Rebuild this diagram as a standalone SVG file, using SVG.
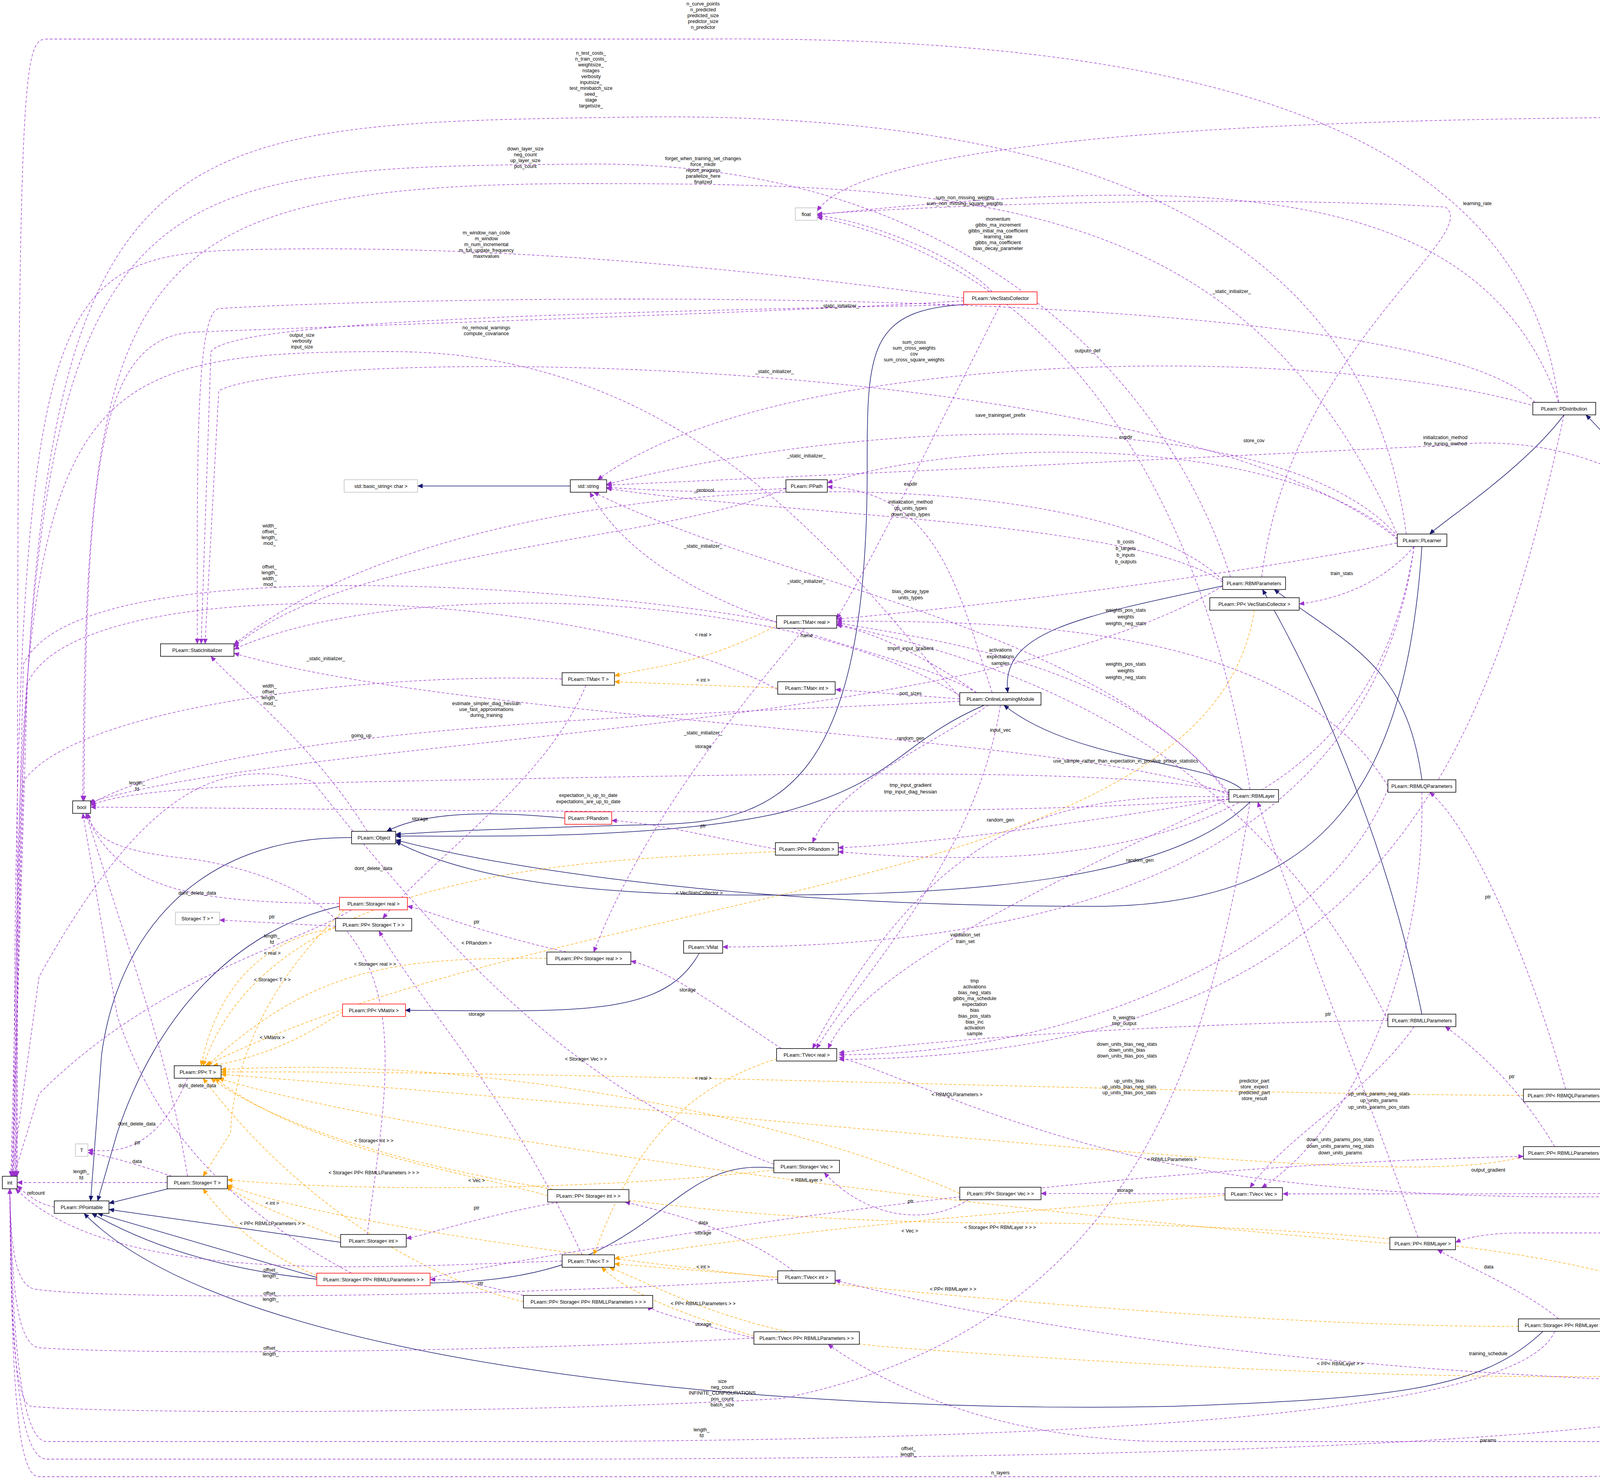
<svg xmlns="http://www.w3.org/2000/svg" width="5272" height="3791" viewBox="0 0 5272 3791">
<style>
text{font-family:"Liberation Sans",Arial,sans-serif;font-size:12.5px;fill:#000}
.n rect{fill:#fff;stroke:#000;stroke-width:1.5}
.n text{text-anchor:middle}
.red rect{stroke:#ff0000}
.gray rect{stroke:#bfbfbf}
.sel rect{fill:#bfbfbf}
.inh{fill:none;stroke:#191970;stroke-width:1.5;marker-end:url(#mi)}
.use{fill:none;stroke:#9a32cd;stroke-width:1.3;stroke-dasharray:7,5;marker-end:url(#mu)}
.tpl{fill:none;stroke:#ffa500;stroke-width:1.3;stroke-dasharray:7,5;marker-end:url(#mt)}
.l text{text-anchor:middle}
</style>
<defs>
<marker id="mi" markerWidth="14" markerHeight="12" refX="13" refY="6" orient="auto" markerUnits="userSpaceOnUse"><path d="M0,0L14,6L0,12z" fill="#191970"/></marker>
<marker id="mu" markerWidth="14" markerHeight="12" refX="13" refY="6" orient="auto" markerUnits="userSpaceOnUse"><path d="M0,0L14,6L0,12z" fill="#9a32cd"/></marker>
<marker id="mt" markerWidth="14" markerHeight="12" refX="13" refY="6" orient="auto" markerUnits="userSpaceOnUse"><path d="M0,0L14,6L0,12z" fill="#ffa500"/></marker>
</defs>
<rect width="5272" height="3791" fill="#fff"/>
<g id="edges">
<!-- inheritance -->
<path class="inh" d="M3640,1399 C3600,2000 3400,2320 2800,2320 C1800,2320 1200,2200 1013,2150"/>
<path class="inh" d="M4004,1062 C3900,1200 3700,1330 3660,1367"/>
<path class="inh" d="M5157,2961 C5100,2400 4300,1300 4060,1062"/>
<path class="inh" d="M3130,1500 C2750,1580 2560,1620 2580,1773"/>
<path class="inh" d="M3180,2021 C3100,1950 2750,1950 2570,1805"/>
<path class="inh" d="M2520,1805 C2300,1900 2300,2000 2000,2080 C1700,2150 1200,2140 1013,2140"/>
<path class="inh" d="M2480,779 C2220,790 2220,900 2220,1200 C2220,2000 2000,2100 1700,2110 C1300,2120 1100,2130 1013,2136"/>
<path class="inh" d="M1446,2094 C1300,2080 1100,2070 990,2128"/>
<path class="inh" d="M3200,2053 C3000,2250 2500,2300 1800,2290 C1300,2280 1100,2200 1013,2154"/>
<path class="inh" d="M3640,1996 C3600,1700 3450,1650 3262,1509"/>
<path class="inh" d="M3640,2596 C3560,2200 3400,1800 3232,1509"/>
<path class="inh" d="M900,2144 C500,2140 300,2400 260,2700 L232,3074"/>
<path class="inh" d="M869,2320 C600,2380 400,2600 300,2900 L250,3074"/>
<path class="inh" d="M430,3043 L279,3080"/>
<path class="inh" d="M872,3180 L279,3096"/>
<path class="inh" d="M811,3270 L250,3106"/>
<path class="inh" d="M1981,2990 C1700,2960 1700,3250 1200,3280 C700,3310 400,3200 235,3106"/>
<path class="inh" d="M3950,3408 C3800,3550 3600,3580 3000,3600 C2000,3620 600,3500 215,3106"/>
<path class="inh" d="M1790,2440 C1700,2600 1500,2590 1037,2586"/>
<path class="inh" d="M1460,1244 L1069,1244"/>
<!-- template -->
<path class="tpl" d="M1985,2180 C1600,2200 700,2200 520,2728"/>
<path class="tpl" d="M1400,2453 C1000,2450 800,2480 530,2728"/>
<path class="tpl" d="M859,2375 C700,2400 560,2500 515,2728"/>
<path class="tpl" d="M877,2590 C800,2640 700,2700 545,2728"/>
<path class="tpl" d="M3211,1562 C3100,2300 1500,2250 525,2728"/>
<path class="tpl" d="M2457,3055 C2000,2850 1200,2700 566,2738"/>
<path class="tpl" d="M1402,3061 C1200,3000 800,2950 550,2760"/>
<path class="tpl" d="M3900,2804 C3000,2800 1500,2740 566,2744"/>
<path class="tpl" d="M3900,2960 C3600,3050 2500,2900 566,2750"/>
<path class="tpl" d="M3560,3183 C2500,3100 1000,2900 560,2760"/>
<path class="tpl" d="M1340,3332 C1000,3250 700,3000 520,2760"/>
<path class="tpl" d="M4400,3376 C4100,3150 3000,3130 2500,3130 C1500,3120 800,2950 540,2760"/>
<path class="tpl" d="M880,2330 C700,2500 600,2700 590,2900 L520,3011"/>
<path class="tpl" d="M872,3170 C700,3100 600,3060 582,3035"/>
<path class="tpl" d="M1981,2995 C1500,3050 900,3050 582,3020"/>
<path class="tpl" d="M811,3265 C650,3200 560,3100 520,3043"/>
<path class="tpl" d="M3887,3395 C3000,3400 1000,3200 582,3033"/>
<path class="tpl" d="M1990,1600 C1800,1700 1700,1700 1573,1730"/>
<path class="tpl" d="M1991,1761 L1573,1745"/>
<path class="tpl" d="M1990,2710 C1700,2800 1600,3000 1520,3212"/>
<path class="tpl" d="M1991,3269 L1573,3235"/>
<path class="tpl" d="M3136,3060 C2600,3100 2000,3150 1573,3222"/>
<path class="tpl" d="M1930,3420 C1700,3350 1600,3300 1540,3244"/>
<path class="tpl" d="M4733,3496 C4000,3560 3000,3500 2300,3450 C1900,3420 1700,3300 1560,3244"/>
<!-- usage to int -->
<path class="use" d="M140,3090 C90,3080 60,3050 44,3035"/>
<path class="use" d="M428,3027 L44,3027"/>
<path class="use" d="M1439,1738 C1000,1720 200,1800 60,2000 L30,3011"/>
<path class="use" d="M1988,1592 C1500,1500 200,1400 60,1700 L28,3011"/>
<path class="use" d="M1991,1765 C1500,1500 200,1450 70,1750 L32,3011"/>
<path class="use" d="M1439,3228 C1000,3240 300,3300 40,3043"/>
<path class="use" d="M5130,2993 C5000,3600 4700,3780 4000,3780 L100,3780 C40,3780 30,3500 25,3043"/>
<path class="use" d="M4800,3512 C4400,3700 3000,3730 1500,3735 L120,3735 C40,3735 30,3400 25,3043"/>
<path class="use" d="M3980,3408 C3900,3600 3000,3680 1500,3690 L120,3690 C40,3690 30,3300 25,3043"/>
<path class="use" d="M1930,3425 C1300,3460 400,3470 100,3450 C30,3440 30,3200 25,3043"/>
<path class="use" d="M1991,3275 C1300,3320 300,3330 90,3300 C30,3290 28,3150 25,3043"/>
<path class="use" d="M3200,2053 C3100,2700 2900,3400 2000,3580 C1300,3620 300,3620 80,3600 C30,3590 27,3300 25,3043"/>
<path class="use" d="M2467,763 C2000,700 1300,620 600,640 C100,660 40,800 35,3011"/>
<path class="use" d="M2457,1785 C2200,1500 1800,900 1000,900 C100,900 40,1000 38,3011"/>
<path class="use" d="M3150,1477 C3000,1000 2500,410 1500,420 C200,430 45,450 40,3011"/>
<path class="use" d="M3600,1367 C3500,600 2800,280 1600,300 C200,320 50,330 42,3011"/>
<path class="use" d="M3990,1030 C3900,300 3000,90 1800,100 L120,100 C50,100 44,200 44,3011"/>
<path class="use" d="M900,2329 C750,2420 400,2500 100,2800 L35,3011"/>
<path class="use" d="M1981,2980 C1500,2800 1200,2500 800,2000 C600,1950 400,1960 100,2500 L30,3011"/>
<!-- usage to bool -->
<path class="use" d="M2467,770 C2000,800 1000,830 500,850 C250,860 220,1200 215,2050"/>
<path class="use" d="M3580,1375 C3200,500 2500,470 1500,470 C300,470 220,700 212,2050"/>
<path class="use" d="M3146,2045 C2500,2100 1000,2070 232,2066"/>
<path class="use" d="M2457,1795 C1800,1830 600,1850 232,2058"/>
<path class="use" d="M3130,1500 C2500,1880 800,1880 228,2054"/>
<path class="use" d="M3146,2030 C2900,1960 2000,1980 1000,2000 C500,2010 300,2030 232,2062"/>
<path class="use" d="M868,2313 C500,2310 300,2280 220,2082"/>
<path class="use" d="M480,3011 C430,2700 350,2500 220,2082"/>
<path class="use" d="M940,3160 C1000,2700 1100,2300 500,2200 C300,2180 240,2150 225,2082"/>
<path class="use" d="M900,3259 C600,3100 400,2900 300,2600 L212,2082"/>
<!-- to float -->
<path class="use" d="M5150,2961 C5100,1000 5000,300 4400,300 C3000,300 2200,380 2092,540"/>
<path class="use" d="M3990,1030 C3800,500 3200,430 2092,550"/>
<path class="use" d="M3230,1477 C3300,900 3800,600 3700,530 C3200,500 2500,520 2092,548"/>
<path class="use" d="M3200,2021 C3100,1400 2800,700 2092,556"/>
<path class="use" d="M2540,747 C2450,650 2200,560 2092,552"/>
<!-- to StaticInitializer -->
<path class="use" d="M3930,1030 C3600,700 1000,760 560,790 C500,800 505,1200 505,1648"/>
<path class="use" d="M2467,780 C1500,800 600,820 540,900 L515,1648"/>
<path class="use" d="M3577,1380 C3000,900 800,880 560,1000 L525,1648"/>
<path class="use" d="M3130,1485 C2800,1160 1200,1160 599,1650"/>
<path class="use" d="M2012,1250 C1700,1390 900,1400 599,1656"/>
<path class="use" d="M2457,1780 C2000,1500 1000,1480 599,1662"/>
<path class="use" d="M3146,2035 C2800,1880 1200,1850 599,1672"/>
<path class="use" d="M940,2128 C800,1900 600,1750 540,1680"/>
<!-- to std::string / PPath -->
<path class="use" d="M3930,1040 C3400,880 2000,880 1530,1228"/>
<path class="use" d="M3580,1375 C3300,1050 2300,1050 1553,1240"/>
<path class="use" d="M3580,1380 C3300,1120 2500,1110 2118,1236"/>
<path class="use" d="M2012,1250 C1800,1265 1700,1255 1553,1248"/>
<path class="use" d="M2540,1773 C2450,1500 2400,1260 2118,1246"/>
<path class="use" d="M3130,1490 C2900,1330 2000,1320 1553,1250"/>
<path class="use" d="M3146,2030 C2800,1600 2000,1500 1520,1260"/>
<path class="use" d="M2500,1773 C2300,1650 1700,1600 1510,1260"/>
<path class="use" d="M5100,2961 C4900,2000 4500,1050 3700,1140 C2500,1200 1800,1230 1553,1242"/>
<!-- to TMat -->
<path class="use" d="M2561,779 C2450,1000 2250,1400 2142,1584"/>
<path class="use" d="M3553,2012 C3300,1600 2600,1590 2142,1590"/>
<path class="use" d="M3553,2612 C3200,1900 2600,1700 2142,1598"/>
<path class="use" d="M2500,1773 C2400,1700 2250,1620 2142,1600"/>
<path class="use" d="M3146,2037 C2900,1700 2400,1640 2142,1594"/>
<path class="use" d="M3576,1390 C3000,1500 2400,1560 2142,1585"/>
<path class="use" d="M2457,1789 L2139,1765"/>
<!-- misc -->
<path class="use" d="M3620,1399 C3550,1480 3450,1530 3326,1546"/>
<path class="use" d="M2530,1805 C2400,1900 2150,2000 2080,2157"/>
<path class="use" d="M3146,2045 C2800,2100 2400,2160 2146,2170"/>
<path class="use" d="M3620,1399 C3500,2200 2700,2230 2146,2180"/>
<path class="use" d="M1985,2173 C1800,2140 1700,2110 1566,2100"/>
<path class="use" d="M480,2760 C400,2950 300,2950 225,2944"/>
<path class="use" d="M440,3011 C350,2980 280,2960 225,2950"/>
<path class="use" d="M859,2371 L562,2355"/>
<path class="use" d="M1450,2437 C1200,2380 1100,2330 1043,2320"/>
<path class="use" d="M2000,2684 C1800,2550 1700,2480 1615,2460"/>
<path class="use" d="M2060,1608 C1900,1800 1650,2100 1520,2437"/>
<path class="use" d="M1500,1754 C1400,2000 1100,2200 980,2351"/>
<path class="use" d="M1490,3212 C1300,2800 1100,2600 970,2383"/>
<path class="use" d="M2030,3253 C1900,3150 1700,3100 1600,3077"/>
<path class="use" d="M1430,3077 C1200,3120 1100,3160 1040,3170"/>
<path class="use" d="M2480,3071 C2350,3150 2200,3100 2110,3002"/>
<path class="use" d="M3136,3056 L2665,3055"/>
<path class="use" d="M5049,2985 C4900,3056 4700,3056 3284,3056"/>
<path class="use" d="M3640,2028 C3650,2500 3450,2900 3230,3040"/>
<path class="use" d="M3620,2628 C3500,2800 3300,2900 3200,3040"/>
<path class="use" d="M5060,2961 C4700,2870 4400,2820 4116,2808"/>
<path class="use" d="M5049,2974 L4116,2955"/>
<path class="use" d="M3980,2935 C3900,2800 3800,2700 3700,2628"/>
<path class="use" d="M4008,2788 C3900,2400 3750,2100 3660,2028"/>
<path class="use" d="M5049,2990 C4500,3080 3600,3100 3000,2980 C2600,2900 2300,2750 2148,2706"/>
<path class="use" d="M5110,2993 C5050,3500 5000,3690 4800,3690 L3000,3690 C2500,3690 2200,3500 2120,3441"/>
<path class="use" d="M5100,2993 C5000,3500 4900,3545 4700,3545 C4200,3545 3000,3500 2138,3277"/>
<path class="use" d="M5130,2993 C5050,3200 4900,3400 4880,3480"/>
<path class="use" d="M5110,2993 C5000,3150 4900,3156 4700,3156 L3900,3156 C3800,3156 3750,3170 3726,3180"/>
<path class="use" d="M4800,3480 C4700,3440 4600,3420 4520,3408"/>
<path class="use" d="M4308,3392 L4129,3392"/>
<path class="use" d="M3990,3376 C3900,3300 3750,3240 3680,3199"/>
<path class="use" d="M3630,3167 C3500,2800 3300,2300 3220,2053"/>
<path class="use" d="M1930,3425 C1750,3380 1650,3350 1672,3348"/>
<path class="use" d="M1340,3316 C1200,3280 1150,3275 1101,3275"/>
<path class="use" d="M1101,3270 C2000,3100 3000,2980 3900,2960"/>
<path class="use" d="M3620,1399 C3500,2300 2500,2424 1850,2424"/>
<path class="use" d="M3146,2045 C2600,2300 2200,2500 2120,2684"/>
<path class="use" d="M3553,2612 C3000,2620 2400,2660 2148,2695"/>
<path class="use" d="M3553,2020 C3400,2400 2800,2700 2148,2700"/>
<path class="use" d="M4004,1062 C3800,2000 3500,2700 2148,2712"/>
<path class="use" d="M2561,1805 C2500,2200 2200,2500 2090,2684"/>
<path class="use" d="M3146,2040 C2700,2030 2400,2100 2080,2684"/>
</g>
<g class="l" id="labels">
<text x="1220" y="2418">&lt; PRandom &gt;</text>
<text x="960" y="2472">&lt; Storage&lt; real &gt; &gt;</text>
<text x="697" y="2512">&lt; Storage&lt; T &gt; &gt;</text>
<text x="697" y="2660">&lt; VMatrix &gt;</text>
<text x="1790" y="2290">&lt; VecStatsCollector &gt;</text>
<text x="1500" y="2715">&lt; Storage&lt; Vec &gt; &gt;</text>
<text x="957" y="2924">&lt; Storage&lt; int &gt; &gt;</text>
<text x="2450" y="2806">&lt; RBMQLParameters &gt;</text>
<text x="3000" y="2972">&lt; RBMLLParameters &gt;</text>
<text x="2065" y="3025">&lt; RBMLayer &gt;</text>
<text x="957" y="3006">&lt; Storage&lt; PP&lt; RBMLLParameters &gt; &gt; &gt;</text>
<text x="2560" y="3146">&lt; Storage&lt; PP&lt; RBMLayer &gt; &gt; &gt;</text>
<text x="697" y="2444">&lt; real &gt;</text>
<text x="697" y="3084">&lt; int &gt;</text>
<text x="1220" y="3026">&lt; Vec &gt;</text>
<text x="697" y="3136">&lt; PP&lt; RBMLLParameters &gt; &gt;</text>
<text x="2440" y="3304">&lt; PP&lt; RBMLayer &gt; &gt;</text>
<text x="1800" y="1629">&lt; real &gt;</text>
<text x="1800" y="1745">&lt; int &gt;</text>
<text x="1800" y="2764">&lt; real &gt;</text>
<text x="1800" y="3247">&lt; int &gt;</text>
<text x="2329" y="3155">&lt; Vec &gt;</text>
<text x="1800" y="3341">&lt; PP&lt; RBMLLParameters &gt; &gt;</text>
<text x="3431" y="3495">&lt; PP&lt; RBMLayer &gt; &gt;</text>
<text x="92" y="3058">refcount</text>
<text x="208" y="3003">length_<tspan x="208" dy="16">fd</tspan></text>
<text x="690" y="1760">width_<tspan x="690" dy="15">offset_</tspan><tspan x="690" dy="15">length_</tspan><tspan x="690" dy="15">mod_</tspan></text>
<text x="690" y="1350">width_<tspan x="690" dy="15">offset_</tspan><tspan x="690" dy="15">length_</tspan><tspan x="690" dy="15">mod_</tspan></text>
<text x="690" y="1455">offset_<tspan x="690" dy="15">length_</tspan><tspan x="690" dy="15">width_</tspan><tspan x="690" dy="15">mod_</tspan></text>
<text x="693" y="3255">offset_<tspan x="693" dy="15">length_</tspan></text>
<text x="2561" y="3774">n_layers</text>
<text x="2326" y="3712">offset_<tspan x="2326" dy="15">length_</tspan></text>
<text x="1796" y="3664">length_<tspan x="1796" dy="15">fd</tspan></text>
<text x="693" y="3455">offset_<tspan x="693" dy="15">length_</tspan></text>
<text x="693" y="3315">offset_<tspan x="693" dy="15">length_</tspan></text>
<text x="1849" y="3540">size<tspan x="1849" dy="15">neg_count</tspan><tspan x="1849" dy="15">INFINITE_CONFIGURATIONS</tspan><tspan x="1849" dy="15">pos_count</tspan><tspan x="1849" dy="15">batch_size</tspan></text>
<text x="1245" y="600">m_window_nan_code<tspan x="1245" dy="15">m_window</tspan><tspan x="1245" dy="15">m_num_incremental</tspan><tspan x="1245" dy="15">m_full_update_frequency</tspan><tspan x="1245" dy="15">maxnvalues</tspan></text>
<text x="773" y="862">output_size<tspan x="773" dy="15">verbosity</tspan><tspan x="773" dy="15">input_size</tspan></text>
<text x="1345" y="385">down_layer_size<tspan x="1345" dy="15">neg_count</tspan><tspan x="1345" dy="15">up_layer_size</tspan><tspan x="1345" dy="15">pos_count</tspan></text>
<text x="1513" y="140">n_test_costs_<tspan x="1513" dy="15">n_train_costs_</tspan><tspan x="1513" dy="15">weightsize_</tspan><tspan x="1513" dy="15">nstages</tspan><tspan x="1513" dy="15">verbosity</tspan><tspan x="1513" dy="15">inputsize_</tspan><tspan x="1513" dy="15">test_minibatch_size</tspan><tspan x="1513" dy="15">seed_</tspan><tspan x="1513" dy="15">stage</tspan><tspan x="1513" dy="15">targetsize_</tspan></text>
<text x="1800" y="14">n_curve_points<tspan x="1800" dy="15">n_predicted</tspan><tspan x="1800" dy="15">predicted_size</tspan><tspan x="1800" dy="15">predictor_size</tspan><tspan x="1800" dy="15">n_predictor</tspan></text>
<text x="696" y="2400">length_<tspan x="696" dy="16">fd</tspan></text>
<text x="351" y="2008">length_<tspan x="351" dy="16">fd</tspan></text>
<text x="1245" y="843">no_removal_warnings<tspan x="1245" dy="15">compute_covariance</tspan></text>
<text x="1800" y="410">forget_when_training_set_changes<tspan x="1800" dy="15">force_mkdir</tspan><tspan x="1800" dy="15">report_progress</tspan><tspan x="1800" dy="15">parallelize_here</tspan><tspan x="1800" dy="15">finalized</tspan></text>
<text x="1506" y="2040">expectation_is_up_to_date<tspan x="1506" dy="16">expectations_are_up_to_date</tspan></text>
<text x="1245" y="1805">estimate_simpler_diag_hessian<tspan x="1245" dy="15">use_fast_approximations</tspan><tspan x="1245" dy="15">during_training</tspan></text>
<text x="925" y="1887">going_up</text>
<text x="2882" y="1952">use_sample_rather_than_expectation_in_positive_phase_statistics</text>
<text x="505" y="2290">dont_delete_data</text>
<text x="505" y="2783">dont_delete_data</text>
<text x="956" y="2227">dont_delete_data</text>
<text x="350" y="2881">dont_delete_data</text>
<text x="4841" y="278">learning_rate<tspan x="4841" dy="15">weight_decay</tspan></text>
<text x="4276" y="408">upper_bound<tspan x="4276" dy="15">lower_bound</tspan><tspan x="4276" dy="15">delta_curve</tspan></text>
<text x="3782" y="525">learning_rate</text>
<text x="2555" y="565">momentum<tspan x="2555" dy="15">gibbs_ma_increment</tspan><tspan x="2555" dy="15">gibbs_initial_ma_coefficient</tspan><tspan x="2555" dy="15">learning_rate</tspan><tspan x="2555" dy="15">gibbs_ma_coefficient</tspan><tspan x="2555" dy="15">bias_decay_parameter</tspan></text>
<text x="2470" y="510">sum_non_missing_weights<tspan x="2470" dy="15">sum_non_missing_square_weights</tspan></text>
<text x="3153" y="750">_static_initializer_</text>
<text x="2150" y="787">_static_initializer_</text>
<text x="1983" y="955">_static_initializer_</text>
<text x="2064" y="1171">_static_initializer_</text>
<text x="1800" y="1402">_static_initializer_</text>
<text x="2064" y="1492">_static_initializer_</text>
<text x="1800" y="1880">_static_initializer_</text>
<text x="834" y="1690">_static_initializer_</text>
<text x="2784" y="902">outputs_def</text>
<text x="2561" y="1067">save_trainingset_prefix</text>
<text x="2882" y="1123">expdir</text>
<text x="1802" y="1259">_protocol</text>
<text x="2331" y="1243">expdir</text>
<text x="2331" y="1289">initialization_method<tspan x="2331" dy="16">up_units_types</tspan><tspan x="2331" dy="16">down_units_types</tspan></text>
<text x="2331" y="1518">bias_decay_type<tspan x="2331" dy="16">units_types</tspan></text>
<text x="2065" y="1631">name</text>
<text x="3700" y="1124">initialization_method<tspan x="3700" dy="16">fine_tuning_method</tspan></text>
<text x="3210" y="1132">store_cov</text>
<text x="2340" y="880">sum_cross<tspan x="2340" dy="15">sum_cross_weights</tspan><tspan x="2340" dy="15">cov</tspan><tspan x="2340" dy="15">sum_cross_square_weights</tspan></text>
<text x="2882" y="1566">weights_pos_stats<tspan x="2882" dy="17">weights</tspan><tspan x="2882" dy="17">weights_neg_stats</tspan></text>
<text x="2882" y="1704">weights_pos_stats<tspan x="2882" dy="17">weights</tspan><tspan x="2882" dy="17">weights_neg_stats</tspan></text>
<text x="2331" y="1664">tmpm_input_gradient</text>
<text x="2561" y="1668">activations<tspan x="2561" dy="17">expectations</tspan><tspan x="2561" dy="17">samples</tspan></text>
<text x="2882" y="1391">b_costs<tspan x="2882" dy="17">b_targets</tspan><tspan x="2882" dy="17">b_inputs</tspan><tspan x="2882" dy="17">b_outputs</tspan></text>
<text x="2331" y="1779">port_sizes</text>
<text x="3435" y="1472">train_stats</text>
<text x="2331" y="1894">random_gen</text>
<text x="2561" y="2103">random_gen</text>
<text x="2918" y="2206">random_gen</text>
<text x="1800" y="2118">ptr</text>
<text x="352" y="2929">ptr</text>
<text x="351" y="2977">data</text>
<text x="696" y="2351">ptr</text>
<text x="1220" y="2364">ptr</text>
<text x="1760" y="2538">storage</text>
<text x="1800" y="1915">storage</text>
<text x="1075" y="2100">storage</text>
<text x="1220" y="2600">storage</text>
<text x="1800" y="3160">storage</text>
<text x="1220" y="3096">ptr</text>
<text x="2331" y="3079">ptr</text>
<text x="2880" y="3051">storage</text>
<text x="4217" y="3035">expectation_gradients<tspan x="4217" dy="17">activation_gradients</tspan></text>
<text x="3431" y="2921">down_units_params_pos_stats<tspan x="3431" dy="17">down_units_params_neg_stats</tspan><tspan x="3431" dy="17">down_units_params</tspan></text>
<text x="3530" y="2804">up_units_params_neg_stats<tspan x="3530" dy="17">up_units_params</tspan><tspan x="3530" dy="17">up_units_params_pos_stats</tspan></text>
<text x="4734" y="2895">target_params</text>
<text x="4661" y="2961">input_params</text>
<text x="3870" y="2760">ptr</text>
<text x="3809" y="2300">ptr</text>
<text x="3810" y="2999">output_gradient</text>
<text x="3810" y="3691">params</text>
<text x="3810" y="3469">training_schedule</text>
<text x="5003" y="3201">layers</text>
<text x="4450" y="3133">last_layer<tspan x="4450" dy="17">target_layer</tspan></text>
<text x="4661" y="3434">storage</text>
<text x="4218" y="3385">ptr</text>
<text x="3811" y="3247">data</text>
<text x="3400" y="2600">ptr</text>
<text x="1800" y="3394">storage</text>
<text x="1230" y="3289">ptr</text>
<text x="1800" y="3134">data</text>
<text x="2471" y="2397">validation_set<tspan x="2471" dy="17">train_set</tspan></text>
<text x="2495" y="2515">tmp<tspan x="2495" dy="15">activations</tspan><tspan x="2495" dy="15">bias_neg_stats</tspan><tspan x="2495" dy="15">gibbs_ma_schedule</tspan><tspan x="2495" dy="15">expectation</tspan><tspan x="2495" dy="15">bias</tspan><tspan x="2495" dy="15">bias_pos_stats</tspan><tspan x="2495" dy="15">bias_inc</tspan><tspan x="2495" dy="15">activation</tspan><tspan x="2495" dy="15">sample</tspan></text>
<text x="2878" y="2609">b_weights<tspan x="2878" dy="15">tmp_output</tspan></text>
<text x="2885" y="2677">down_units_bias_neg_stats<tspan x="2885" dy="15">down_units_bias</tspan><tspan x="2885" dy="15">down_units_bias_pos_stats</tspan></text>
<text x="2891" y="2771">up_units_bias<tspan x="2891" dy="15">up_units_bias_neg_stats</tspan><tspan x="2891" dy="15">up_units_bias_pos_stats</tspan></text>
<text x="3211" y="2771">predictor_part<tspan x="3211" dy="15">store_expect</tspan><tspan x="3211" dy="15">predicted_part</tspan><tspan x="3211" dy="15">store_result</tspan></text>
<text x="2561" y="1873">input_vec</text>
<text x="2331" y="2014">tmp_input_gradient<tspan x="2331" dy="17">tmp_input_diag_hessian</tspan></text>
</g>
<g id="n1" class="n gray"><rect x="2036" y="532" width="56" height="32"/><text x="2064" y="553">float</text></g>
<g id="n2" class="n red"><rect x="2467" y="747" width="188" height="32"/><text x="2561" y="768">PLearn::VecStatsCollector</text></g>
<g id="n3" class="n"><rect x="3924" y="1030" width="161" height="32"/><text x="4004" y="1051">PLearn::PDistribution</text></g>
<g id="n4" class="n gray"><rect x="881" y="1228" width="188" height="32"/><text x="975" y="1249">std::basic_string&lt; char &gt;</text></g>
<g id="n5" class="n"><rect x="1460" y="1228" width="93" height="32"/><text x="1506" y="1249">std::string</text></g>
<g id="n6" class="n"><rect x="2012" y="1228" width="106" height="32"/><text x="2065" y="1249">PLearn::PPath</text></g>
<g id="n7" class="n"><rect x="3577" y="1367" width="127" height="32"/><text x="3640" y="1388">PLearn::PLearner</text></g>
<g id="n8" class="n"><rect x="3130" y="1477" width="161" height="32"/><text x="3210" y="1498">PLearn::RBMParameters</text></g>
<g id="n9" class="n"><rect x="3097" y="1530" width="229" height="32"/><text x="3211" y="1551">PLearn::PP&lt; VecStatsCollector &gt;</text></g>
<g id="n10" class="n"><rect x="1988" y="1576" width="154" height="32"/><text x="2065" y="1597">PLearn::TMat&lt; real &gt;</text></g>
<g id="n11" class="n"><rect x="411" y="1648" width="188" height="32"/><text x="505" y="1669">PLearn::StaticInitializer</text></g>
<g id="n12" class="n"><rect x="1439" y="1722" width="134" height="32"/><text x="1506" y="1743">PLearn::TMat&lt; T &gt;</text></g>
<g id="n13" class="n"><rect x="1991" y="1745" width="147" height="32"/><text x="2065" y="1766">PLearn::TMat&lt; int &gt;</text></g>
<g id="n14" class="n"><rect x="2457" y="1773" width="208" height="32"/><text x="2561" y="1794">PLearn::OnlineLearningModule</text></g>
<g id="n15" class="n"><rect x="3146" y="2021" width="127" height="32"/><text x="3210" y="2042">PLearn::RBMLayer</text></g>
<g id="n16" class="n"><rect x="3553" y="1996" width="174" height="32"/><text x="3640" y="2017">PLearn::RBMLQParameters</text></g>
<g id="n17" class="n"><rect x="186" y="2050" width="46" height="32"/><text x="209" y="2071">bool</text></g>
<g id="n18" class="n red"><rect x="1446" y="2078" width="120" height="32"/><text x="1506" y="2099">PLearn::PRandom</text></g>
<g id="n19" class="n"><rect x="900" y="2128" width="113" height="32"/><text x="957" y="2149">PLearn::Object</text></g>
<g id="n20" class="n"><rect x="1985" y="2157" width="161" height="32"/><text x="2065" y="2178">PLearn::PP&lt; PRandom &gt;</text></g>
<g id="n21" class="n red"><rect x="869" y="2297" width="174" height="32"/><text x="956" y="2318">PLearn::Storage&lt; real &gt;</text></g>
<g id="n22" class="n gray"><rect x="449" y="2335" width="113" height="32"/><text x="505" y="2356">Storage&lt; T &gt; *</text></g>
<g id="n23" class="n"><rect x="859" y="2351" width="195" height="32"/><text x="956" y="2372">PLearn::PP&lt; Storage&lt; T &gt; &gt;</text></g>
<g id="n24" class="n"><rect x="1750" y="2408" width="100" height="32"/><text x="1800" y="2429">PLearn::VMat</text></g>
<g id="n25" class="n"><rect x="1400" y="2437" width="215" height="32"/><text x="1507" y="2458">PLearn::PP&lt; Storage&lt; real &gt; &gt;</text></g>
<g id="n26" class="n red"><rect x="877" y="2570" width="161" height="32"/><text x="957" y="2591">PLearn::PP&lt; VMatrix &gt;</text></g>
<g id="n27" class="n"><rect x="3553" y="2596" width="174" height="32"/><text x="3640" y="2617">PLearn::RBMLLParameters</text></g>
<g id="n28" class="n"><rect x="1988" y="2684" width="154" height="32"/><text x="2065" y="2705">PLearn::TVec&lt; real &gt;</text></g>
<g id="n29" class="n"><rect x="446" y="2728" width="120" height="32"/><text x="506" y="2749">PLearn::PP&lt; T &gt;</text></g>
<g id="n30" class="n"><rect x="3900" y="2788" width="215" height="32"/><text x="4008" y="2809">PLearn::PP&lt; RBMQLParameters &gt;</text></g>
<g id="n31" class="n"><rect x="3900" y="2935" width="215" height="32"/><text x="4008" y="2956">PLearn::PP&lt; RBMLLParameters &gt;</text></g>
<g id="n32" class="n sel"><rect x="5049" y="2961" width="215" height="32"/><text x="5157" y="2982">PLearn::GaussianDBNRegression</text></g>
<g id="n33" class="n"><rect x="1981" y="2970" width="168" height="32"/><text x="2065" y="2991">PLearn::Storage&lt; Vec &gt;</text></g>
<g id="n34" class="n gray"><rect x="193" y="2928" width="32" height="32"/><text x="209" y="2949">T</text></g>
<g id="n35" class="n"><rect x="6" y="3011" width="38" height="32"/><text x="25" y="3032">int</text></g>
<g id="n36" class="n"><rect x="428" y="3011" width="154" height="32"/><text x="505" y="3032">PLearn::Storage&lt; T &gt;</text></g>
<g id="n37" class="n"><rect x="139" y="3074" width="140" height="32"/><text x="209" y="3095">PLearn::PPointable</text></g>
<g id="n38" class="n"><rect x="2457" y="3039" width="208" height="32"/><text x="2561" y="3060">PLearn::PP&lt; Storage&lt; Vec &gt; &gt;</text></g>
<g id="n39" class="n"><rect x="3136" y="3040" width="147" height="32"/><text x="3210" y="3061">PLearn::TVec&lt; Vec &gt;</text></g>
<g id="n40" class="n"><rect x="1402" y="3045" width="208" height="32"/><text x="1506" y="3066">PLearn::PP&lt; Storage&lt; int &gt; &gt;</text></g>
<g id="n41" class="n"><rect x="872" y="3160" width="168" height="32"/><text x="956" y="3181">PLearn::Storage&lt; int &gt;</text></g>
<g id="n42" class="n"><rect x="3558" y="3167" width="168" height="32"/><text x="3642" y="3188">PLearn::PP&lt; RBMLayer &gt;</text></g>
<g id="n43" class="n"><rect x="1439" y="3212" width="134" height="32"/><text x="1506" y="3233">PLearn::TVec&lt; T &gt;</text></g>
<g id="n44" class="n"><rect x="1991" y="3253" width="147" height="32"/><text x="2065" y="3274">PLearn::TVec&lt; int &gt;</text></g>
<g id="n45" class="n red"><rect x="811" y="3259" width="290" height="32"/><text x="956" y="3280">PLearn::Storage&lt; PP&lt; RBMLLParameters &gt; &gt;</text></g>
<g id="n46" class="n"><rect x="1340" y="3316" width="331" height="32"/><text x="1506" y="3337">PLearn::PP&lt; Storage&lt; PP&lt; RBMLLParameters &gt; &gt; &gt;</text></g>
<g id="n47" class="n"><rect x="1930" y="3409" width="270" height="32"/><text x="2065" y="3430">PLearn::TVec&lt; PP&lt; RBMLLParameters &gt; &gt;</text></g>
<g id="n48" class="n"><rect x="3887" y="3376" width="242" height="32"/><text x="4008" y="3397">PLearn::Storage&lt; PP&lt; RBMLayer &gt; &gt;</text></g>
<g id="n49" class="n"><rect x="4308" y="3376" width="283" height="32"/><text x="4450" y="3397">PLearn::PP&lt; Storage&lt; PP&lt; RBMLayer &gt; &gt; &gt;</text></g>
<g id="n50" class="n"><rect x="4733" y="3480" width="222" height="32"/><text x="4844" y="3501">PLearn::TVec&lt; PP&lt; RBMLayer &gt; &gt;</text></g>
</svg>
